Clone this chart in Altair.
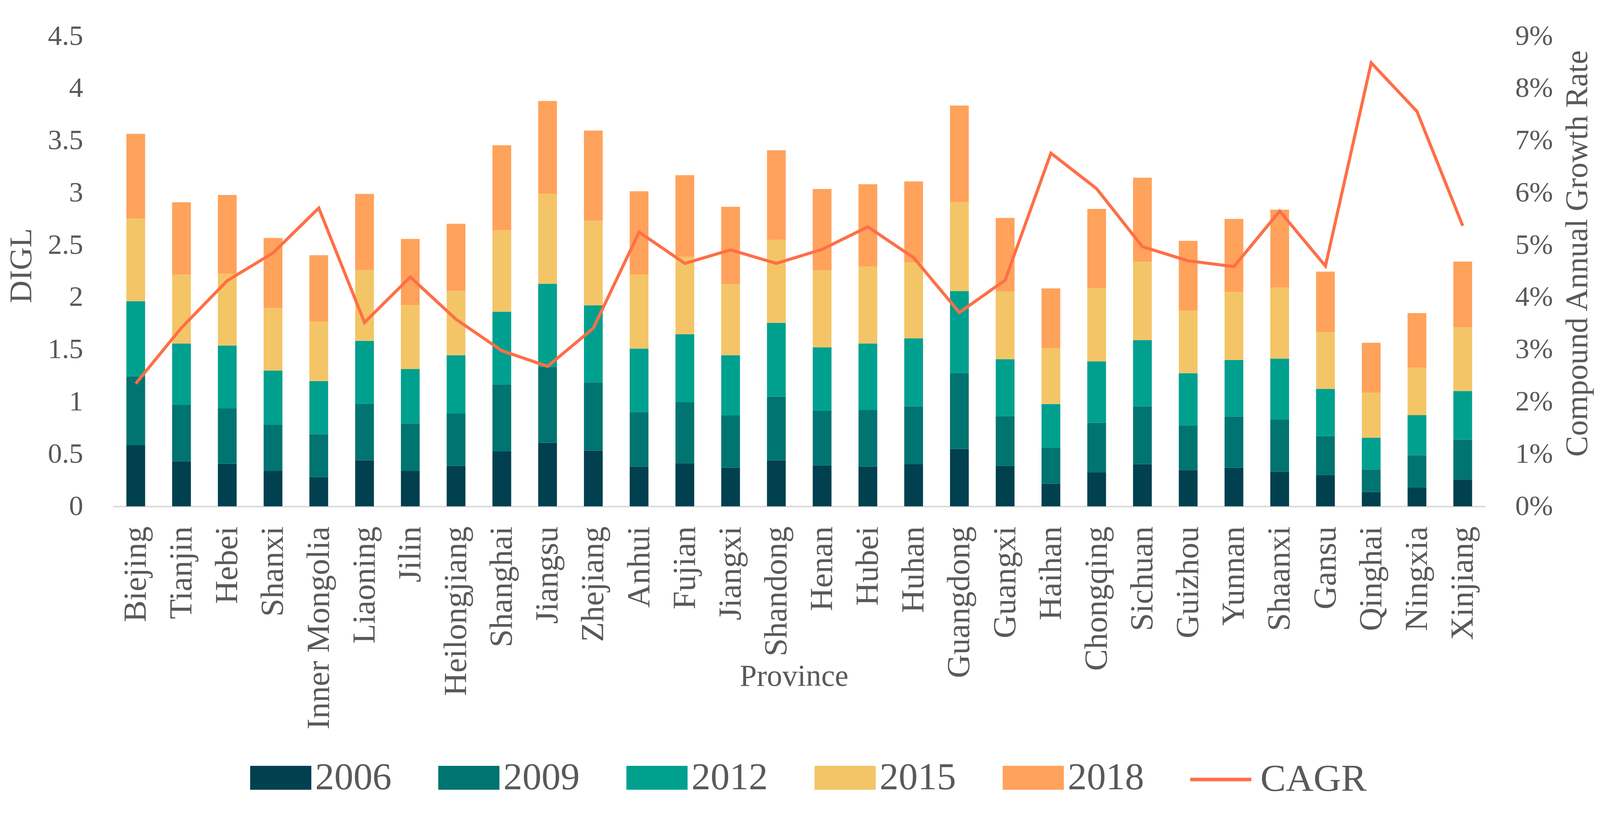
import altair as alt
import pandas as pd

provinces = ["Biejing", "Tianjin", "Hebei", "Shanxi", "Inner Mongolia", "Liaoning", "Jilin",
             "Heilongjiang", "Shanghai", "Jiangsu", "Zhejiang", "Anhui", "Fujian", "Jiangxi",
             "Shandong", "Henan", "Hubei", "Huhan", "Guangdong", "Guangxi", "Haihan",
             "Chongqing", "Sichuan", "Guizhou", "Yunnan", "Shaanxi", "Gansu", "Qinghai",
             "Ningxia", "Xinjiang"]

years = ["2006", "2009", "2012", "2015", "2018"]

v2006 = [0.585, 0.431, 0.408, 0.339, 0.280, 0.441, 0.339, 0.388, 0.525, 0.610, 0.535, 0.382,
         0.412, 0.369, 0.441, 0.392, 0.382, 0.402, 0.549, 0.388, 0.216, 0.324, 0.404, 0.347,
         0.369, 0.333, 0.300, 0.139, 0.178, 0.255]
v2009 = [0.660, 0.539, 0.529, 0.441, 0.412, 0.541, 0.455, 0.500, 0.642, 0.725, 0.651, 0.520,
         0.584, 0.500, 0.610, 0.522, 0.540, 0.555, 0.727, 0.475, 0.343, 0.476, 0.553, 0.428,
         0.490, 0.502, 0.373, 0.214, 0.312, 0.384]
v2012 = [0.718, 0.589, 0.602, 0.520, 0.506, 0.602, 0.520, 0.559, 0.696, 0.796, 0.738, 0.608,
         0.651, 0.578, 0.704, 0.608, 0.637, 0.651, 0.785, 0.545, 0.421, 0.588, 0.635, 0.500,
         0.543, 0.579, 0.451, 0.304, 0.383, 0.465]
v2015 = [0.794, 0.659, 0.686, 0.598, 0.572, 0.677, 0.613, 0.614, 0.780, 0.859, 0.808, 0.708,
         0.741, 0.680, 0.795, 0.736, 0.735, 0.727, 0.851, 0.647, 0.536, 0.700, 0.748, 0.598,
         0.649, 0.680, 0.545, 0.433, 0.456, 0.608]
v2018 = [0.808, 0.692, 0.755, 0.671, 0.634, 0.729, 0.633, 0.643, 0.813, 0.890, 0.865, 0.798,
         0.782, 0.740, 0.858, 0.779, 0.789, 0.775, 0.924, 0.705, 0.570, 0.758, 0.805, 0.668,
         0.700, 0.745, 0.578, 0.475, 0.520, 0.631]

cagr = [0.0235, 0.0342, 0.0432, 0.0485, 0.0571, 0.0352, 0.0439, 0.0358, 0.0298, 0.0268,
        0.0341, 0.0525, 0.0465, 0.0491, 0.0465, 0.0492, 0.0535, 0.0476, 0.0371, 0.0433,
        0.0676, 0.0608, 0.0497, 0.0470, 0.0459, 0.0565, 0.0460, 0.0849, 0.0756, 0.0537]

year_colors = ["#00404F", "#007470", "#00A08F", "#F4C566", "#FFA25C"]
line_color = "#FF6E46"
text_color = "#595959"
FONT = "Liberation Serif"

series = [v2006, v2009, v2012, v2015, v2018]
rows = []
for yi, (yr, vals) in enumerate(zip(years, series)):
    for p, v in zip(provinces, vals):
        rows.append({"province": p, "year": yr, "order": yi, "value": v})
bars_df = pd.DataFrame(rows)
line_df = pd.DataFrame({"province": provinces, "cagr": cagr, "series": ["CAGR"] * len(provinces)})

x_enc = alt.X(
    "province:N",
    sort=provinces,
    scale=alt.Scale(paddingInner=0.59, paddingOuter=0.295),
    axis=alt.Axis(
        title="Province", labelAngle=-90, labelFontSize=85, labelPadding=52,
        labelColor=text_color, ticks=False, domainColor="#D9D9D9", domainWidth=4,
        titleFontSize=80, titleFontWeight="normal", titleColor=text_color,
        titleX=1781, titleY=445, titleAlign="center", titleBaseline="middle",
        labelLimit=1000,
    ),
)

bars = alt.Chart(bars_df).mark_bar().encode(
    x=x_enc,
    y=alt.Y(
        "value:Q",
        stack="zero",
        scale=alt.Scale(domain=[0, 4.5], nice=False),
        axis=alt.Axis(
            title="DIGL", values=[0, 0.5, 1, 1.5, 2, 2.5, 3, 3.5, 4, 4.5], format=".1~f",
            grid=False, domain=False, ticks=False, labelFontSize=74, labelPadding=78,
            labelColor=text_color, titleFontSize=82, titleFontWeight="normal",
            titleColor=text_color, titleX=-239, titleY=600, titleAngle=270,
            titleAlign="center", titleBaseline="middle",
        ),
    ),
    fill=alt.Fill(
        "year:N",
        scale=alt.Scale(domain=years, range=year_colors),
        legend=alt.Legend(
            title=None, orient="none", legendX=359, legendY=1860, direction="horizontal",
            columns=5, columnPadding=122, symbolType="M-1,-0.39H1V0.39H-1Z",
            symbolSize=25600, symbolStrokeWidth=0, labelFontSize=100, labelOffset=10,
            labelColor=text_color, padding=0, labelFont=FONT, labelLimit=1000,
        ),
    ),
    order=alt.Order("order:Q", sort="ascending"),
)

line = alt.Chart(line_df).mark_line(strokeWidth=8, strokeJoin="miter").encode(
    x=alt.X("province:N", sort=provinces),
    y=alt.Y(
        "cagr:Q",
        scale=alt.Scale(domain=[0, 0.09], nice=False),
        axis=alt.Axis(
            orient="right", title="Compound Annual Growth Rate",
            values=[0, 0.01, 0.02, 0.03, 0.04, 0.05, 0.06, 0.07, 0.08, 0.09], format=".0%",
            grid=False, domain=False, ticks=False, labelFontSize=74, labelPadding=77,
            labelColor=text_color, titleFontSize=82, titleFontWeight="normal",
            titleColor=text_color, titleX=240, titleY=568, titleAngle=270,
            titleAlign="center", titleBaseline="middle",
        ),
    ),
    stroke=alt.Stroke(
        "series:N",
        scale=alt.Scale(domain=["CAGR"], range=[line_color]),
        legend=alt.Legend(
            title=None, orient="none", legendX=2813, legendY=1860, direction="horizontal",
            symbolType="stroke", symbolSize=25600, symbolStrokeWidth=9,
            labelFontSize=100, labelOffset=19, labelColor=text_color, padding=0,
            labelFont=FONT, labelLimit=1000,
        ),
    ),
)

chart = (
    alt.layer(bars, line)
    .resolve_scale(y="independent", fill="independent", stroke="independent")
    .properties(
        width=3590, height=1230,
        autosize=alt.AutoSizeParams(type="none"),
        padding={"left": 287, "top": 64, "right": 291, "bottom": 782},
        background="white",
    )
    .configure(font=FONT)
    .configure_view(stroke=None)
    .configure_axis(labelFont=FONT, titleFont=FONT)
)

chart.save("out.html", embed_options={"renderer": "svg", "actions": False})
